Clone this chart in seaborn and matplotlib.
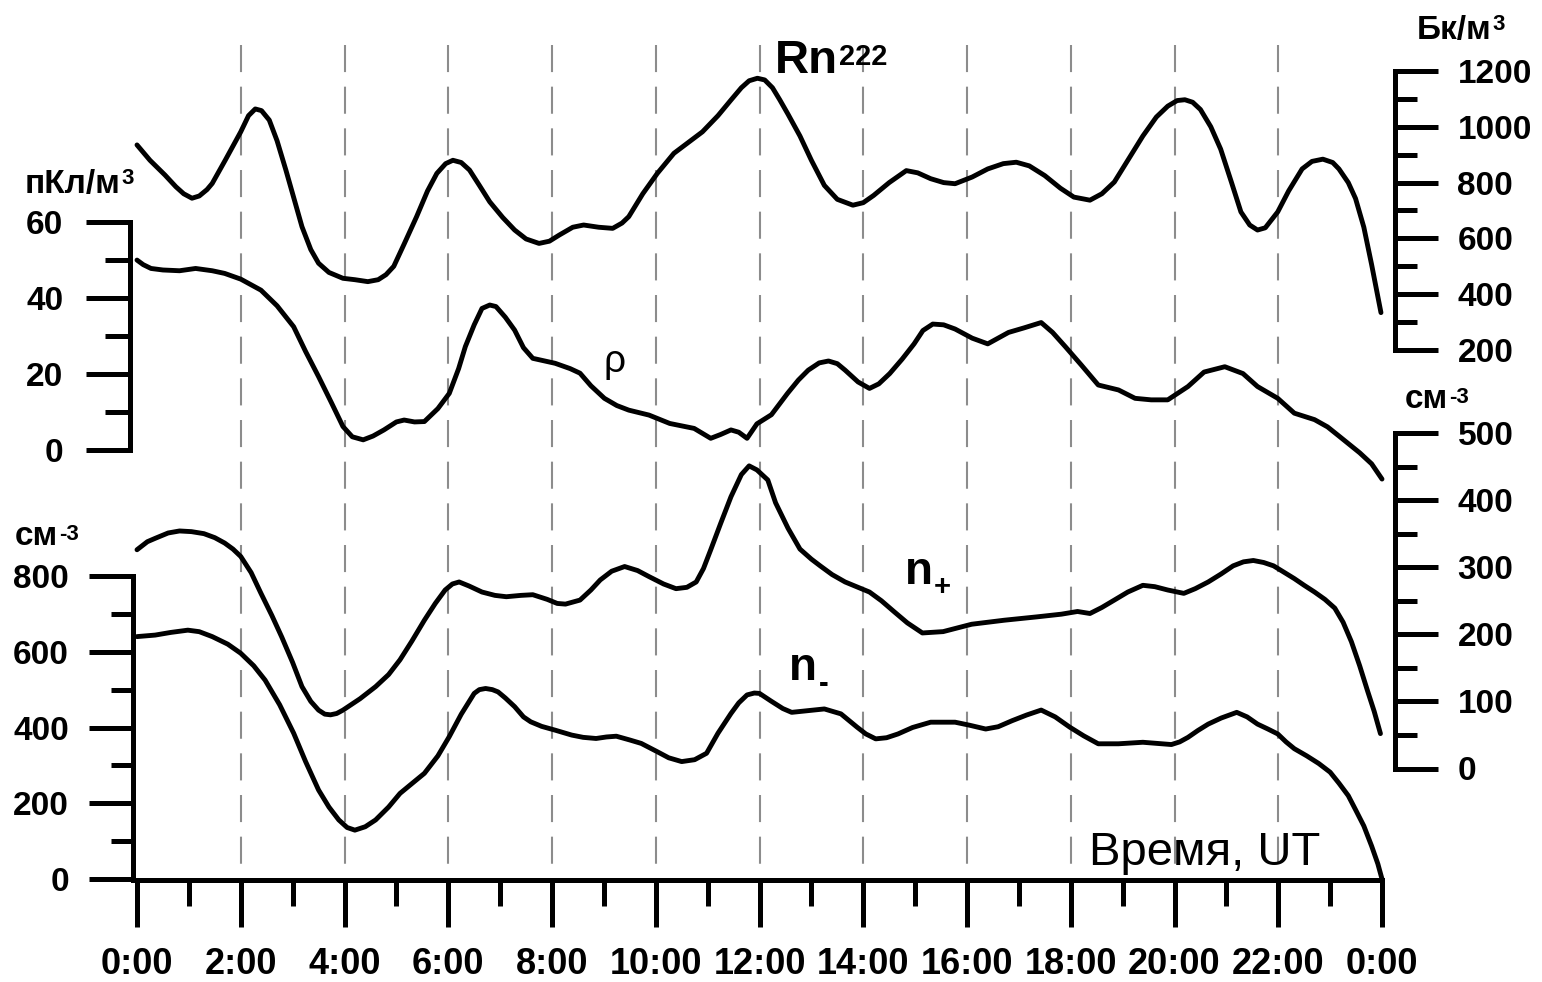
import matplotlib
matplotlib.use("Agg")
import matplotlib.pyplot as plt
import seaborn as sns
from matplotlib.ticker import FixedLocator, FixedFormatter, NullFormatter

sns.set_style("white")
plt.rcParams["font.family"] = ["Liberation Sans", "DejaVu Sans"]
for key in ("text.color", "axes.labelcolor", "xtick.color", "ytick.color",
            "axes.edgecolor"):
    plt.rcParams[key] = "black"

# ---- time axis ----
hour_ticks = list(range(0, 25, 2))
hour_minor = list(range(1, 24, 2))
hour_labels = ["0:00", "2:00", "4:00", "6:00", "8:00", "10:00", "12:00",
               "14:00", "16:00", "18:00", "20:00", "22:00", "0:00"]

# ---- Rn-222 volume activity, Bq/m3 ----
rn_hours = [0.0, 0.25, 0.54, 0.75, 0.9, 1.06, 1.2, 1.35, 1.45, 1.7, 2.0, 2.15,
            2.28, 2.4, 2.55, 2.7, 2.87, 3.0, 3.18, 3.35, 3.5, 3.7, 3.97, 4.2,
            4.45, 4.65, 4.8, 4.95, 5.15, 5.39, 5.6, 5.78, 5.95, 6.09, 6.25,
            6.41, 6.6, 6.8, 7.05, 7.28, 7.5, 7.75, 7.95, 8.14, 8.4, 8.61, 8.9,
            9.17, 9.35, 9.48, 9.75, 10.03, 10.35, 10.6, 10.9, 11.2, 11.45,
            11.65, 11.8, 11.96, 12.1, 12.25, 12.39, 12.55, 12.78, 13.0, 13.25,
            13.5, 13.8, 14.0, 14.2, 14.5, 14.83, 15.05, 15.3, 15.55, 15.77,
            16.1, 16.4, 16.7, 16.95, 17.2, 17.5, 17.8, 18.06, 18.37, 18.6,
            18.84, 19.1, 19.39, 19.65, 19.87, 20.05, 20.2, 20.35, 20.5, 20.7,
            20.89, 21.1, 21.28, 21.45, 21.6, 21.75, 21.99, 22.2, 22.46, 22.65,
            22.86, 23.05, 23.17, 23.35, 23.49, 23.65, 23.8, 23.98]
rn_vals = [935, 880, 827, 785, 760, 744, 752, 775, 797, 880, 982, 1040,
           1064, 1058, 1024, 950, 845, 760, 642, 560, 511, 478, 457, 452,
           445, 452, 470, 500, 580, 678, 770, 833, 868, 880, 872,
           845, 790, 731, 675, 630, 598, 582, 590, 612, 640, 648, 640,
           636, 655, 678, 760, 833, 905, 940, 982, 1040, 1096,
           1140, 1165, 1174, 1168, 1140, 1097, 1045, 967, 880, 790,
           740, 719, 728, 754, 800, 843, 835, 814, 800, 796,
           820, 849, 868, 873, 860, 825, 780, 748, 737, 760,
           802, 880, 967, 1035, 1074, 1094, 1097, 1088, 1062, 1000,
           920, 800, 695, 648, 630, 638, 695, 770, 849, 876,
           884, 872, 849, 800, 743, 640, 506, 334]

# ---- space charge density rho, pC/m3 ----
rho_hours = [0.0, 0.12, 0.27, 0.5, 0.82, 1.13, 1.45, 1.69, 2.0, 2.39, 2.7,
             3.02, 3.25, 3.5, 3.75, 3.97, 4.15, 4.36, 4.55, 4.76, 5.0, 5.15,
             5.35, 5.54, 5.8, 6.02, 6.2, 6.33, 6.5, 6.65, 6.8, 6.92, 7.1, 7.28,
             7.45, 7.63, 8.06, 8.35, 8.54, 8.75, 9.01, 9.25, 9.48, 9.87, 10.27,
             10.74, 10.9, 11.06, 11.25, 11.45, 11.6, 11.76, 11.95, 12.23,
             12.54, 12.75, 12.94, 13.15, 13.33, 13.5, 13.65, 13.9, 14.12, 14.3,
             14.51, 14.75, 14.98, 15.15, 15.34, 15.55, 15.77, 16.1, 16.4, 16.6,
             16.8, 17.1, 17.43, 17.65, 17.9, 18.2, 18.53, 18.92, 19.24, 19.55,
             19.87, 20.26, 20.57, 20.97, 21.32, 21.6, 21.99, 22.31, 22.7,
             22.95, 23.17, 23.57, 23.8, 24.0]
rho_vals = [50.0, 48.8, 47.8, 47.4, 47.2, 47.8, 47.2, 46.5, 45.0, 42.1, 38.0,
            32.5, 26.0, 19.4, 12.5, 6.3, 3.6, 2.8, 3.8, 5.4, 7.5, 8.0,
            7.5, 7.6, 11.0, 15.0, 21.5, 27.3, 33.0, 37.3, 38.2, 37.8, 35.0, 31.6,
            27.0, 24.2, 22.9, 21.5, 20.3, 17.0, 13.7, 11.8, 10.6, 9.3, 7.1,
            5.8, 4.5, 3.2, 4.2, 5.4, 4.8, 3.2, 7.0, 9.4,
            15.0, 18.5, 21.1, 23.0, 23.5, 22.8, 21.1, 18.0, 16.3, 17.5,
            20.2, 24.0, 28.0, 31.5, 33.2, 33.0, 31.9, 29.5, 28.0, 29.5,
            31.0, 32.2, 33.6, 31.0, 27.2, 22.5, 17.2, 15.9, 13.7, 13.3,
            13.3, 16.8, 20.6, 22.0, 20.2, 16.8, 13.7, 9.8, 8.1,
            6.2, 3.8, -0.6, -3.5, -7.5]

# ---- positive light ions n+, cm^-3 (right scale) ----
npos_hours = [0.0, 0.2, 0.35, 0.6, 0.82, 1.05, 1.29, 1.5, 1.69, 1.85, 2.0,
              2.2, 2.39, 2.6, 2.79, 3.0, 3.18, 3.35, 3.5, 3.62, 3.73, 3.85,
              3.97, 4.3, 4.6, 4.85, 5.07, 5.3, 5.54, 5.75, 5.94, 6.08, 6.21,
              6.4, 6.65, 6.9, 7.12, 7.4, 7.63, 7.91, 8.1, 8.26, 8.54, 8.75,
              8.93, 9.15, 9.4, 9.65, 9.87, 10.15, 10.39, 10.6, 10.78, 10.92,
              11.06, 11.25, 11.45, 11.65, 11.8, 11.95, 12.16, 12.31, 12.55,
              12.78, 13.0, 13.17, 13.4, 13.65, 13.9, 14.12, 14.35, 14.59,
              14.85, 15.14, 15.54, 16.09, 16.72, 17.35, 17.82, 18.13, 18.37,
              18.6, 18.84, 19.1, 19.39, 19.62, 19.87, 20.18, 20.4, 20.65, 20.9,
              21.13, 21.33, 21.52, 21.72, 21.91, 22.1, 22.31, 22.5, 22.7, 22.9,
              23.09, 23.25, 23.41, 23.57, 23.72, 23.85, 23.97]
npos_vals = [326, 338, 343, 351, 354, 353, 350, 344, 336, 327, 316,
             292, 261, 228, 196, 158, 122, 100, 87, 81, 80, 82,
             87, 104, 122, 140, 162, 190, 221, 246, 266, 275, 278,
             272, 263, 258, 256, 258, 259, 252, 246, 245, 251, 266,
             281, 294, 301, 295, 286, 275, 268, 270, 278, 298,
             326, 365, 405, 438, 451, 445, 430, 396, 358,
             327, 312, 302, 289, 278, 270, 263, 250, 234,
             217, 202, 204, 215, 221, 226, 230, 234, 231,
             240, 251, 263, 273, 271, 266, 261, 268, 278, 290,
             302, 308, 310, 307, 302, 293, 283, 273, 263, 252,
             239, 218, 189, 153, 116, 85, 52]

# ---- negative light ions n-, cm^-3 (left scale) ----
nneg_hours = [0.0, 0.35, 0.65, 0.98, 1.2, 1.45, 1.75, 2.0, 2.25, 2.47, 2.75,
              3.02, 3.25, 3.5, 3.7, 3.89, 4.05, 4.2, 4.4, 4.6, 4.85, 5.07, 5.3,
              5.54, 5.8, 6.02, 6.25, 6.5, 6.6, 6.72, 6.85, 6.96, 7.1, 7.28,
              7.45, 7.59, 7.8, 8.06, 8.38, 8.6, 8.85, 9.05, 9.24, 9.5, 9.72,
              10.03, 10.25, 10.5, 10.75, 10.98, 11.2, 11.45, 11.6, 11.76, 11.9,
              12.0, 12.22, 12.45, 12.62, 12.9, 13.25, 13.57, 13.88, 14.05,
              14.24, 14.45, 14.67, 14.95, 15.3, 15.77, 16.05, 16.36, 16.6,
              16.87, 17.15, 17.43, 17.7, 17.98, 18.25, 18.53, 18.92, 19.39,
              19.94, 20.1, 20.26, 20.45, 20.65, 20.9, 21.2, 21.4, 21.6, 21.8,
              21.99, 22.15, 22.31, 22.55, 22.78, 23.0, 23.17, 23.35, 23.49,
              23.65, 23.8, 23.92, 24.0]
nneg_vals = [640, 644, 651, 657, 653, 640, 620, 596, 563, 525, 460,
             385, 310, 235, 190, 156, 136, 129, 138, 156, 190, 226, 252,
             279, 325, 376, 435, 490, 500, 503, 500, 494, 478, 455,
             428, 415, 403, 393, 380, 374, 371, 375, 377, 367, 358,
             336, 320, 310, 315, 332, 385, 437, 465, 486, 491,
             490, 470, 450, 440, 444, 449, 436, 401, 383,
             370, 373, 383, 400, 414, 414, 406, 396, 402,
             418, 433, 446, 428, 401, 378, 357, 357, 361,
             355, 362, 374, 392, 409, 425, 440, 428, 409, 396,
             383, 362, 344, 325, 305, 282, 253, 220, 183,
             140, 87, 40, 0]

# ---- scale ticks ----
rho_major, rho_minor = [0, 20, 40, 60], [10, 30, 50]
rn_major, rn_minor = list(range(200, 1201, 200)), list(range(300, 1101, 200))
nneg_major, nneg_minor = list(range(0, 801, 200)), list(range(100, 701, 200))
npos_major, npos_minor = list(range(0, 501, 100)), list(range(50, 451, 100))

W, H = 1542, 982
X0, X1 = 137, 1382
SPINE_W = 3.6
CURVE_W = 3.5
TICK_FS = 24

fig = plt.figure(figsize=(W / 100, H / 100), dpi=100)


def fx(x):
    return x / W


def fy(y):
    return 1 - y / H


def panel(y_low, y_high):
    ax = fig.add_axes([fx(X0), fy(y_low), (X1 - X0) / W, (y_low - y_high) / H])
    ax.patch.set_visible(False)
    for s in ax.spines.values():
        s.set_visible(False)
    ax.set_xticks([])
    ax.grid(False)
    return ax


def yscale(ax, side, x_px, lo, hi, major, minor, maj_len, min_len, pad):
    ax.set_ylim(lo, hi)
    sp = ax.spines[side]
    sp.set_visible(True)
    sp.set_linewidth(SPINE_W)
    sp.set_color("black")
    sp.set_capstyle("projecting")
    sp.set_position(("axes", (x_px - X0) / (X1 - X0)))
    sp.set_bounds(major[0], major[-1])
    if side == "left":
        ax.yaxis.tick_left()
    else:
        ax.yaxis.tick_right()
    ax.yaxis.set_major_locator(FixedLocator(major))
    ax.yaxis.set_minor_locator(FixedLocator(minor))
    ax.yaxis.set_minor_formatter(NullFormatter())
    ax.tick_params(axis="y", which="major", length=maj_len, width=SPINE_W,
                   direction="out", pad=pad, labelsize=TICK_FS,
                   color="black", labelcolor="black")
    ax.tick_params(axis="y", which="minor", length=min_len, width=SPINE_W,
                   direction="out", color="black")
    for lab in ax.get_yticklabels():
        lab.set_fontweight("bold")


def curve(ax, xs, ys):
    sns.lineplot(x=xs, y=ys, ax=ax, color="black", linewidth=CURVE_W,
                 sort=False, legend=False, clip_on=False,
                 solid_joinstyle="round", solid_capstyle="round")
    ax.set_xlabel("")
    ax.set_ylabel("")
    ax.set_xlim(0, 24)


def label(x, y, s, size, bold=True, ha="left", va="baseline"):
    return fig.text(fx(x), fy(y), s, fontsize=size,
                    fontweight="bold" if bold else "normal", ha=ha, va=va,
                    color="black")


def scripted(x, y, base, script, size, script_size, frac, gap=1.0):
    """Bold text with a raised or lowered index placed right after it."""
    t = label(x, y, base, size)
    ax_t.annotate(script, xy=(1.0, frac), xycoords=t, xytext=(gap, 0),
                  textcoords="offset points", fontsize=script_size,
                  fontweight="bold", ha="left", va="baseline",
                  color="black", annotation_clip=False)


# ---- base frame: time axis and hour grid ----
ax_t = panel(880, 45)
ax_t.set_xlim(0, 24)
ax_t.set_ylim(0, 1)
ax_t.set_yticks([])
for h in hour_ticks[1:-1]:
    ax_t.plot([h, h], [1, 0], color="#8c8c8c", linewidth=1.5,
              linestyle=(0, (13, 7)), zorder=0)
sb = ax_t.spines["bottom"]
sb.set_visible(True)
sb.set_linewidth(SPINE_W)
sb.set_color("black")
sb.set_bounds(-0.08, 24)
ax_t.xaxis.tick_bottom()
ax_t.xaxis.set_major_locator(FixedLocator(hour_ticks))
ax_t.xaxis.set_major_formatter(FixedFormatter(hour_labels))
ax_t.xaxis.set_minor_locator(FixedLocator(hour_minor))
ax_t.tick_params(axis="x", which="major", length=34, width=SPINE_W,
                 direction="out", pad=14, labelsize=26, color="black",
                 labelcolor="black")
ax_t.tick_params(axis="x", which="minor", length=19, width=SPINE_W,
                 direction="out", color="black")
for lab in ax_t.get_xticklabels():
    lab.set_fontweight("bold")

# ---- Rn-222 ----
ax_rn = panel(350, 71)
curve(ax_rn, rn_hours, rn_vals)
yscale(ax_rn, "right", 1395, 200, 1200, rn_major, rn_minor, 31, 16, 14)

# ---- rho ----
ax_rho = panel(450.5, 222)
curve(ax_rho, rho_hours, rho_vals)
yscale(ax_rho, "left", 130, 0, 60, rho_major, rho_minor, 32, 18, 16)

# ---- n- ----
ax_nn = panel(879, 576)
curve(ax_nn, nneg_hours, nneg_vals)
yscale(ax_nn, "left", 133, 0, 800, nneg_major, nneg_minor, 32, 16, 14)

# ---- n+ ----
ax_np = panel(768.5, 433)
curve(ax_np, npos_hours, npos_vals)
yscale(ax_np, "right", 1395, 0, 500, npos_major, npos_minor, 31, 16, 14)

# ---- captions and units ----
scripted(775, 73, "Rn", "222", 34, 21, 0.40, gap=0.5)
scripted(1417, 39, "Бк/м", "3", 24, 16, 0.50, gap=0.5)
scripted(25, 193, "пКл/м", "3", 24, 16, 0.50, gap=0.5)
scripted(1405, 408, "см", "-3", 24, 16, 0.38, gap=0.5)
scripted(15, 545, "см", "-3", 24, 16, 0.38, gap=0.5)
scripted(905, 584, "n", "+", 33, 21, -0.02, gap=0.5)
scripted(789, 680, "n", "-", 33, 21, -0.04, gap=1.5)
label(614, 362, "ρ", 28, bold=False, ha="center", va="center")
label(1320, 865, "Время, UT", 34, bold=False, ha="right")

fig.savefig("out.png", dpi=100, facecolor="white")
